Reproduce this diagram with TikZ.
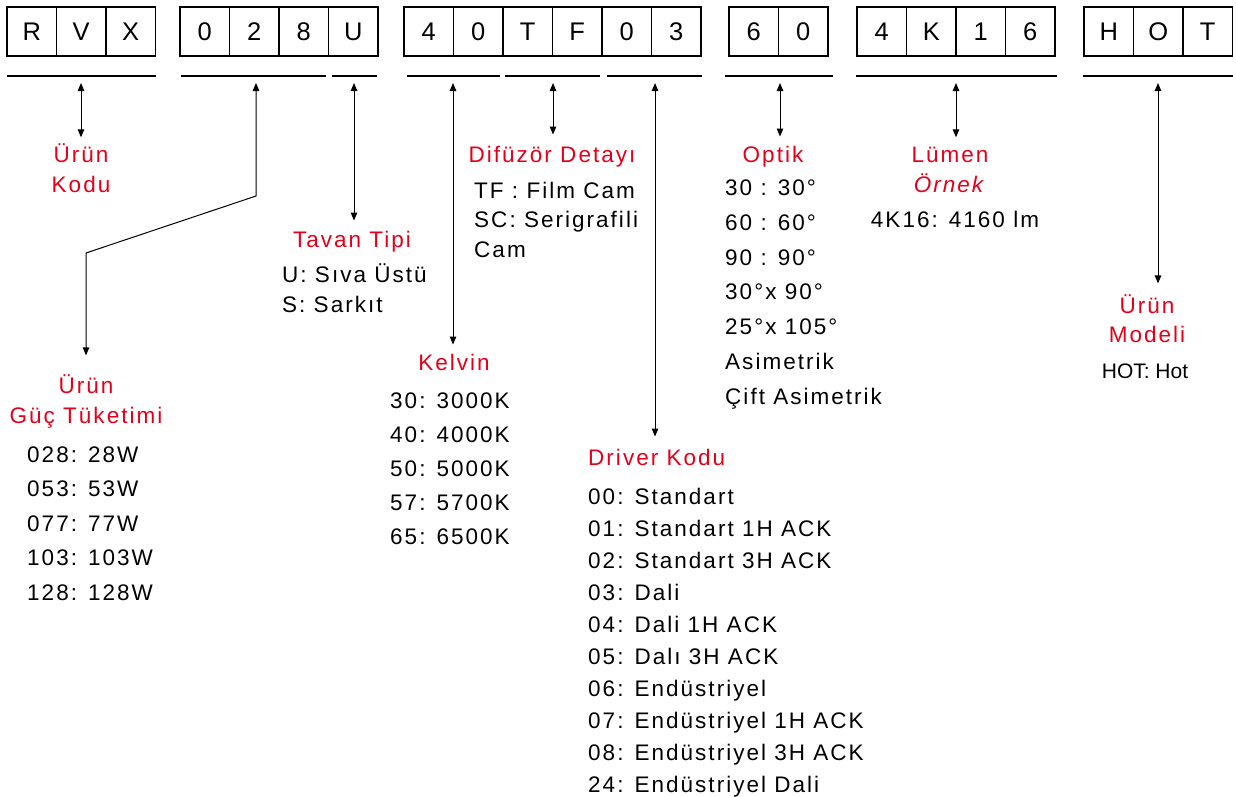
\documentclass[tikz,border=0pt]{standalone}
\usepackage{fontspec}
\setmainfont{Liberation Sans}[LetterSpace=9]
\newfontfamily\cellfont{Liberation Sans}
\usetikzlibrary{arrows.meta, positioning}
\definecolor{codered}{RGB}{226,0,26}

\begin{document}
\begin{tikzpicture}[
  x=1pt, y=-1pt,
  cell/.style={draw, line width=1.8pt, minimum width=49.5pt, minimum height=49pt,
    inner sep=0pt, outer sep=0pt, font=\cellfont\fontsize{25.5}{25.5}\selectfont},
  bar/.style={line width=2.3pt},
  link/.style={line width=1pt,
    {Triangle[length=8pt,width=6.5pt]}-{Triangle[length=8pt,width=6.5pt]}},
  head/.style={codered, align=center, inner sep=0pt, font=\fontsize{22.5}{30}\selectfont},
  list/.style={align=left, inner sep=0pt, font=\fontsize{22.5}{34.5}\selectfont},
  node distance=0pt,
]
\useasboundingbox (0,0) rectangle (1236,796);

% code boxes
\node[cell] (p1) at (31.75,31.5) {R};
\node[cell, right=of p1] (p2) {V};
\node[cell, right=of p2] (p3) {X};

\node[cell] (w1) at (204.75,31.5) {0};
\node[cell, right=of w1] (w2) {2};
\node[cell, right=of w2] (w3) {8};
\node[cell, right=of w3] (mnt) {U};

\node[cell] (k1) at (428.75,31.5) {4};
\node[cell, right=of k1] (k2) {0};
\node[cell, right=of k2] (d1) {T};
\node[cell, right=of d1] (d2) {F};
\node[cell, right=of d2] (dr1) {0};
\node[cell, right=of dr1] (dr2) {3};

\node[cell] (o1) at (753.75,31.5) {6};
\node[cell, right=of o1] (o2) {0};

\node[cell] (l1) at (881.75,31.5) {4};
\node[cell, right=of l1] (l2) {K};
\node[cell, right=of l2] (l3) {1};
\node[cell, right=of l3] (l4) {6};

\node[cell] (m1) at (1108.75,31.5) {H};
\node[cell, right=of m1] (m2) {O};
\node[cell, right=of m2] (m3) {T};

% group bars
\draw[bar] (7,76) -- (156,76);
\draw[bar] (181,76) -- (326,76);
\draw[bar] (332,76) -- (377,76);
\draw[bar] (407,76) -- (500,76);
\draw[bar] (505,76) -- (600,76);
\draw[bar] (607,76) -- (702,76);
\draw[bar] (725,76) -- (833,76);
\draw[bar] (856,76) -- (1057,76);
\draw[bar] (1083,76) -- (1233,76);

% labels (base = last line)
\node[head, anchor=base] (kod) at (81,192) {Ürün\\Kodu};
\node[head, anchor=base] (guc) at (86,423) {Ürün\\Güç Tüketimi};
\node[list, anchor=base west] (gucl) at (27,600)
  {028: 28W\\053: 53W\\077: 77W\\103: 103W\\128: 128W};
\node[head, anchor=base] (tav) at (352,247) {Tavan Tipi};
\node[list, anchor=base west, font=\fontsize{22.5}{30}\selectfont] (tavl) at (282,312)
  {U: Sıva Üstü\\S: Sarkıt};
\node[head, anchor=base] (kel) at (454,370) {Kelvin};
\node[list, anchor=base west, font=\fontsize{22.5}{34}\selectfont] (kell) at (390,544)
  {30: 3000K\\40: 4000K\\50: 5000K\\57: 5700K\\65: 6500K};
\node[head, anchor=base] (dif) at (552,162) {Difüzör Detayı};
\node[list, anchor=base west, font=\fontsize{22.5}{29.5}\selectfont] (difl) at (474,257)
  {TF : Film Cam\\SC: Serigrafili\\Cam};
\node[head, anchor=base west] (drv) at (588,465) {Driver Kodu};
\node[list, anchor=base west, font=\fontsize{22.5}{32}\selectfont] (drvl) at (588,792)
  {00: Standart\\01: Standart 1H ACK\\02: Standart 3H ACK\\03: Dali\\04: Dali 1H ACK\\
   05: Dalı 3H ACK\\06: Endüstriyel\\07: Endüstriyel 1H ACK\\08: Endüstriyel 3H ACK\\
   24: Endüstriyel Dali};
\node[head, anchor=base] (opt) at (773,162) {Optik};
\node[list, anchor=base west, font=\fontsize{22.5}{34.7}\selectfont] (optl) at (725,404)
  {30 : 30°\\60 : 60°\\90 : 90°\\30°x 90°\\25°x 105°\\Asimetrik\\Çift Asimetrik};
\node[head, anchor=base] (lum) at (950,192) {Lümen\\\textit{Örnek}};
\node[list, anchor=base] (luml) at (955,227) {4K16: 4160 lm};
\node[head, anchor=base, font=\fontsize{22.5}{29}\selectfont] (mdl) at (1147,342) {Ürün\\Modeli};
\node[anchor=base, inner sep=0pt, font=\cellfont\fontsize{21}{21}\selectfont] (mdll)
  at (1145,378) {HOT: Hot};

% connectors
\coordinate (t-kod) at (81,83);
\coordinate (t-guc) at (256,83);
\coordinate (bend1) at (256,196);
\coordinate (bend2) at (86,253);
\coordinate (t-tav) at (354,83);
\coordinate (t-kel) at (453,83);
\coordinate (t-dif) at (553,83);
\coordinate (t-drv) at (655,83);
\coordinate (t-opt) at (780,83);
\coordinate (t-lum) at (956,83);
\coordinate (t-mdl) at (1158,83);

\draw[link, shorten >=5.6pt] (t-kod) -- (t-kod |- kod.north);
\draw[link, shorten >=18.6pt] (t-guc) -- (bend1) -- (bend2) -- (bend2 |- guc.north);
\draw[link, shorten >=10pt] (t-tav) -- (t-tav |- tav.north);
\draw[link, shorten >=9pt] (t-kel) -- (t-kel |- kel.north);
\draw[link, shorten >=11pt] (t-dif) -- (t-dif |- dif.north);
\draw[link, shorten >=12pt] (t-drv) -- (t-drv |- drv.north);
\draw[link, shorten >=9pt] (t-opt) -- (t-opt |- opt.north);
\draw[link, shorten >=9pt] (t-lum) -- (t-lum |- lum.north);
\draw[link, shorten >=10.6pt] (t-mdl) -- (t-mdl |- mdl.north);
\end{tikzpicture}
\end{document}
